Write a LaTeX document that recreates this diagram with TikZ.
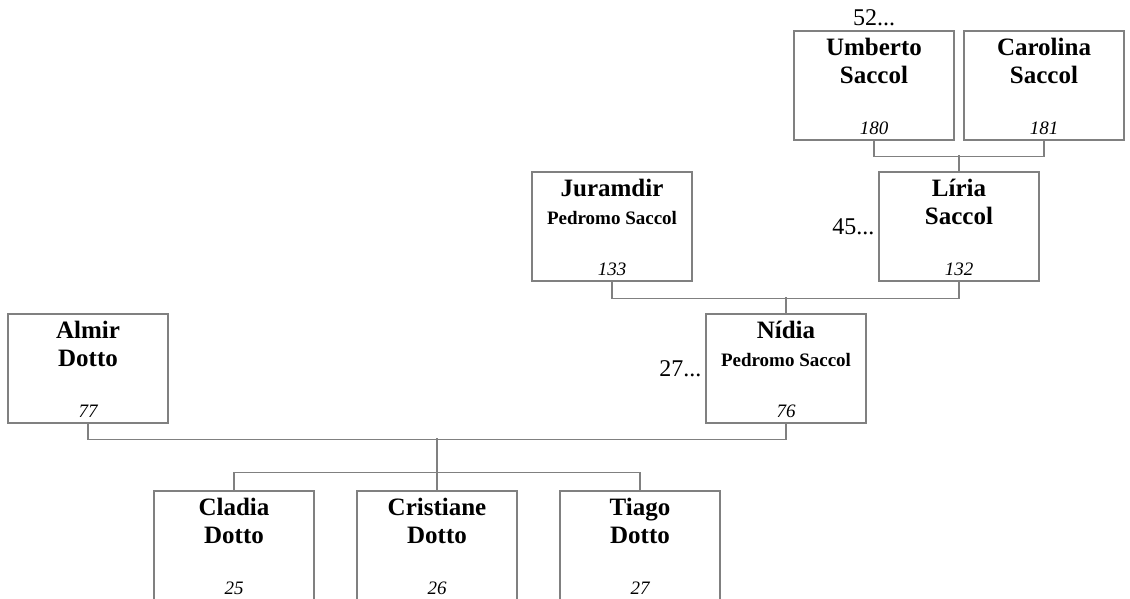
\documentclass[tikz,border=0pt]{standalone}
\usepackage{fontspec}
\setmainfont{Liberation Serif}
\begin{document}
\begin{tikzpicture}[x=1pt,y=-1pt,
  person/.style={draw=black!50, line width=1.1pt, minimum width=160pt, minimum height=109pt, inner sep=0pt},
  pname/.style={anchor=north, inner sep=0pt, yshift=-7pt, align=center, font=\fontsize{25}{28}\selectfont\bfseries},
  pnum/.style={anchor=south, inner sep=0pt, yshift=6pt, font=\fontsize{19}{19}\selectfont\itshape},
  pgen/.style={inner sep=4pt, font=\fontsize{24}{24}\selectfont},
  link/.style={draw=black!50, line width=1.1pt}]

\useasboundingbox (0,0) rectangle (1130,598);
\clip (0,0) rectangle (1130,598);

\node[person, label={[pname]north:Umberto\\Saccol}, label={[pnum]south:180}, label={[pgen]above:52...}] (umberto) at (874,85.5) {};
\node[person, label={[pname]north:Carolina\\Saccol}, label={[pnum]south:181}] (carolina) at (1044,85.5) {};

\node[person, label={[pname]north:Juramdir\\{\fontsize{19}{28}\selectfont Pedromo Saccol}}, label={[pnum]south:133}] (juramdir) at (612,226.5) {};
\node[person, label={[pname]north:Líria\\Saccol}, label={[pnum]south:132}, label={[pgen]west:45...}] (liria) at (959,226.5) {};

\node[person, label={[pname]north:Almir\\Dotto}, label={[pnum]south:77}] (almir) at (88,368.5) {};
\node[person, label={[pname]north:Nídia\\{\fontsize{19}{28}\selectfont Pedromo Saccol}}, label={[pnum]south:76}, label={[pgen]west:27...}] (nidia) at (786,368.5) {};

\node[person, label={[pname]north:Cladia\\Dotto}, label={[pnum]south:25}] (cladia) at (234,545.5) {};
\node[person, label={[pname]north:Cristiane\\Dotto}, label={[pnum]south:26}] (cristiane) at (437,545.5) {};
\node[person, label={[pname]north:Tiago\\Dotto}, label={[pnum]south:27}] (tiago) at (640,545.5) {};

\draw[link] (umberto.south) -- ++(0,16) -| (carolina.south);
\draw[link] (liria.north) -- ++(0,-16);

\draw[link] (juramdir.south) -- ++(0,16.5) -| (liria.south);
\draw[link] (nidia.north) -- ++(0,-16);

\draw[link] (almir.south) -- ++(0,16) -| (nidia.south);
\draw[link] (cristiane.north) -- ++(0,-52);
\draw[link] (cladia.north) -- ++(0,-18) -| (tiago.north);
\end{tikzpicture}
\end{document}
